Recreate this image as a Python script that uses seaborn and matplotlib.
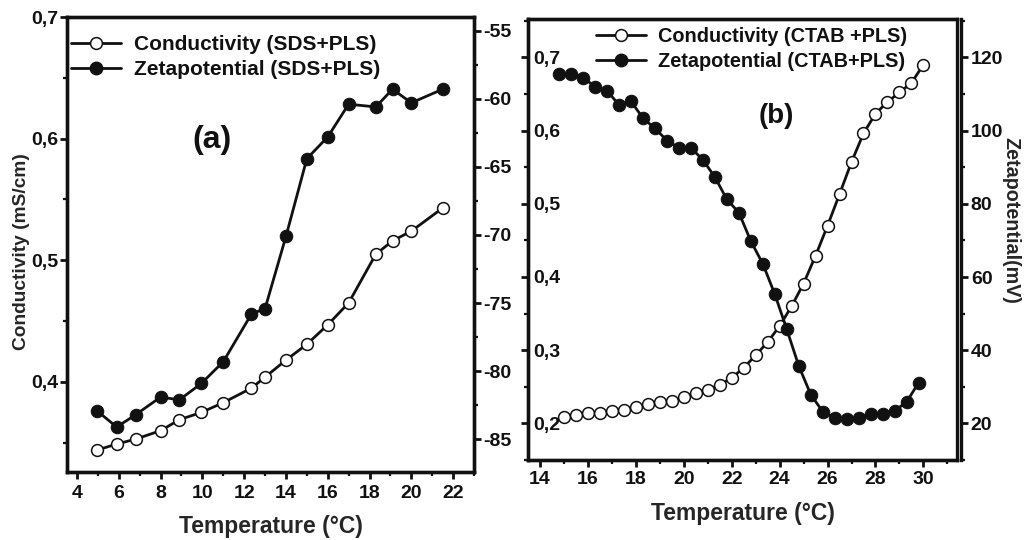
import matplotlib
matplotlib.use("Agg")
import matplotlib.pyplot as plt
import seaborn as sns
import pandas as pd
from matplotlib.ticker import MultipleLocator
from matplotlib.lines import Line2D

# ---------------- data ----------------
temp_sds = [4.95, 5.9, 6.8, 8.0, 8.9, 9.95, 11.0, 12.35, 13.0, 14.0, 15.0, 16.0, 17.0, 18.3, 19.1, 20.0, 21.5]
cond_sds = [0.344, 0.349, 0.353, 0.360, 0.369, 0.375, 0.383, 0.395, 0.404, 0.418, 0.431,
            0.447, 0.465, 0.505, 0.516, 0.524, 0.543]
zeta_sds = [-82.9, -84.1, -83.2, -81.9, -82.1, -80.9, -79.3, -75.8, -75.4, -70.1, -64.4,
            -62.8, -60.4, -60.6, -59.3, -60.3, -59.3]

temp_ctab_cond = [15.0, 15.5, 16.0, 16.5, 17.0, 17.5, 18.0, 18.5, 19.0, 19.5, 20.0, 20.5, 21.0,
                  21.5, 22.0, 22.5, 23.0, 23.5, 24.0, 24.5, 25.0, 25.5, 26.0, 26.5, 27.0, 27.5,
                  28.0, 28.5, 29.0, 29.5, 30.0]
cond_ctab = [0.209, 0.211, 0.214, 0.2145, 0.217, 0.219, 0.223, 0.226, 0.229, 0.231, 0.236,
             0.242, 0.246, 0.253, 0.262, 0.276, 0.293, 0.311, 0.333, 0.360, 0.391, 0.429,
             0.470, 0.513, 0.557, 0.596, 0.623, 0.639, 0.652, 0.665, 0.690]
temp_ctab_zeta = [14.8, 15.3, 15.8, 16.3, 16.8, 17.3, 17.8, 18.3, 18.8, 19.3, 19.8, 20.3, 20.8,
                  21.3, 21.8, 22.3, 22.8, 23.3, 23.8, 24.3, 24.8, 25.3, 25.8, 26.3, 26.8, 27.3,
                  27.8, 28.3, 28.8, 29.3, 29.8]
zeta_ctab = [115.6, 115.6, 114.5, 112.0, 110.9, 107.0, 108.0, 103.4, 100.6, 97.3, 95.3, 95.3,
             92.0, 87.3, 81.2, 77.6, 69.8, 63.6, 55.3, 45.7, 35.7, 27.9, 23.2, 21.6, 21.2, 21.4,
             22.6, 22.5, 23.4, 25.9, 31.1]

# tick labels
a_xticks = [4, 6, 8, 10, 12, 14, 16, 18, 20, 22]
a_yticks = [0.4, 0.5, 0.6, 0.7]
a_ylabels = ["0,4", "0,5", "0,6", "0,7"]
a_y2ticks = [-85, -80, -75, -70, -65, -60, -55]
b_xticks = [14, 16, 18, 20, 22, 24, 26, 28, 30]
b_yticks = [0.2, 0.3, 0.4, 0.5, 0.6, 0.7]
b_ylabels = ["0,2", "0,3", "0,4", "0,5", "0,6", "0,7"]
b_y2ticks = [20, 40, 60, 80, 100, 120]

legend_a = ["Conductivity (SDS+PLS)", "Zetapotential (SDS+PLS)"]
legend_b = ["Conductivity (CTAB +PLS)", "Zetapotential (CTAB+PLS)"]

# ---------------- style ----------------
sns.set_theme(style="ticks")
plt.rcParams["font.family"] = ["Liberation Sans", "DejaVu Sans"]
plt.rcParams["font.weight"] = "bold"
plt.rcParams["axes.labelweight"] = "bold"

INK = "#111111"
LW = 2.0
MS = 8.5
SP = 2.4
TICKFS = 14

fig = plt.figure(figsize=(10.26, 5.4), dpi=100)
ax1 = fig.add_axes([0.0653, 0.1259, 0.3967, 0.8426])
ax2 = fig.add_axes([0.5146, 0.1481, 0.4181, 0.8167])
ax1b = ax1.twinx()
ax2b = ax2.twinx()

open_kw = dict(marker="o", markersize=MS, markerfacecolor="white", markeredgecolor=INK,
               markeredgewidth=1.1, color=INK, linewidth=LW)
fill_kw = dict(marker="o", markersize=MS + 0.5, markerfacecolor=INK, markeredgecolor=INK,
               color=INK, linewidth=LW)

df_a = pd.DataFrame({"T": temp_sds, "cond": cond_sds, "zeta": zeta_sds})
df_bc = pd.DataFrame({"T": temp_ctab_cond, "cond": cond_ctab})
df_bz = pd.DataFrame({"T": temp_ctab_zeta, "zeta": zeta_ctab})

sns.lineplot(data=df_a, x="T", y="cond", ax=ax1, legend=False, **open_kw)
sns.lineplot(data=df_a, x="T", y="zeta", ax=ax1b, legend=False, **fill_kw)
sns.lineplot(data=df_bc, x="T", y="cond", ax=ax2, legend=False, **open_kw)
sns.lineplot(data=df_bz, x="T", y="zeta", ax=ax2b, legend=False, **fill_kw)

# limits
ax1.set_xlim(3.52, 23.0)
ax1.set_ylim(0.326, 0.70)
ax1b.set_ylim(-87.4, -54.0)
ax2.set_xlim(13.5, 31.4)
ax2.set_ylim(0.15, 0.7523)
ax2b.set_ylim(10.0, 130.5)

# ticks
ax1.set_xticks(a_xticks)
ax1.set_xticklabels([str(t) for t in a_xticks])
ax1.xaxis.set_minor_locator(MultipleLocator(1))
ax1.set_yticks(a_yticks, a_ylabels)
ax1.yaxis.set_minor_locator(MultipleLocator(0.05))
ax1b.set_yticks(a_y2ticks, [str(t) for t in a_y2ticks])
ax1b.yaxis.set_minor_locator(MultipleLocator(2.5))

ax2.set_xticks(b_xticks)
ax2.set_xticklabels([str(t) for t in b_xticks])
ax2.xaxis.set_minor_locator(MultipleLocator(1))
ax2.set_yticks(b_yticks, b_ylabels)
ax2.yaxis.set_minor_locator(MultipleLocator(0.05))
ax2b.set_yticks(b_y2ticks, [str(t) for t in b_y2ticks])
ax2b.yaxis.set_minor_locator(MultipleLocator(10))

for ax in (ax1, ax1b, ax2, ax2b):
    ax.tick_params(which="major", direction="out", length=5, width=2.0, colors=INK,
                   labelsize=TICKFS, pad=2)
    ax.tick_params(which="minor", direction="out", length=3, width=1.6, colors=INK)
    for s in ax.spines.values():
        s.set_linewidth(SP)
        s.set_color(INK)
        s.set_visible(True)
    for lbl in ax.get_xticklabels() + ax.get_yticklabels():
        lbl.set_fontweight("bold")
    ax.set_xlabel("")
    ax.set_ylabel("")

ax1.tick_params(axis="x", which="major", pad=4)
ax2.tick_params(axis="x", which="major", pad=3)
ax1.tick_params(axis="y", which="major", pad=1)
# labels of right panel left axis sit inside the frame
ax2.tick_params(axis="y", which="major", pad=-9)
for lbl in ax2.get_yticklabels():
    lbl.set_horizontalalignment("left")

ax2b.spines["right"].set_position(("outward", 3))

ax1.set_xlabel("Temperature (°C)", fontsize=16.5, fontweight="bold", labelpad=10)
ax2.set_xlabel("Temperature (°C)", fontsize=16.5, fontweight="bold", labelpad=10)
ax1.set_ylabel("Conductivity (mS/cm)", fontsize=13.8, fontweight="bold")
ax1.yaxis.set_label_coords(-0.09, 0.4835)
ax2b.set_ylabel("Zetapotential(mV)", fontsize=14.2, fontweight="bold", rotation=270,
                labelpad=20)
ax2b.yaxis.set_label_coords(1.149, 0.544)

ax1.text(0.356, 0.73, "(a)", transform=ax1.transAxes, fontsize=23, fontweight="bold",
         ha="center", va="center", color=INK)
ax2.text(0.58, 0.78, "(b)", transform=ax2.transAxes, fontsize=20, fontweight="bold",
         ha="center", va="center", color=INK)

def handles():
    h_open = Line2D([], [], **open_kw)
    h_fill = Line2D([], [], **fill_kw)
    return [h_open, h_fill]

leg1 = ax1b.legend(handles(), legend_a, loc="upper left", bbox_to_anchor=(0.0, 0.97),
                   frameon=False, fontsize=15, handlelength=2.4, handletextpad=0.6,
                   borderaxespad=0.0, borderpad=0.2, labelspacing=0.32)
leg2 = ax2b.legend(handles(), legend_b, loc="upper left", bbox_to_anchor=(0.15, 0.99),
                   frameon=False, fontsize=14.3, handlelength=2.5, handletextpad=0.6,
                   borderaxespad=0.0, borderpad=0.2, labelspacing=0.3)
for leg in (leg1, leg2):
    for t in leg.get_texts():
        t.set_fontweight("bold")
        t.set_color(INK)

fig.savefig("out.png", dpi=100, facecolor="white")
